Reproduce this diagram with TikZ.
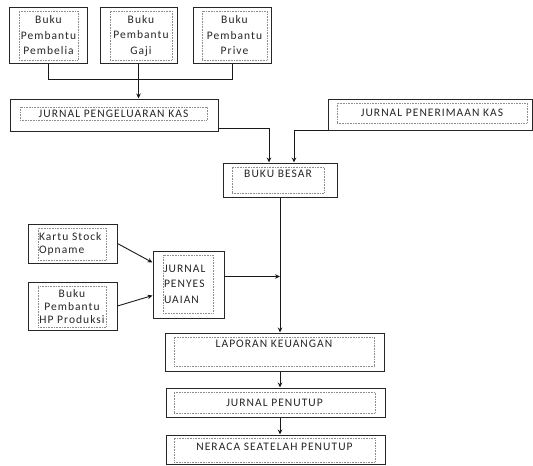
\documentclass[tikz,border=0pt]{standalone}
\usepackage{fontspec}
\setmainfont{Carlito}[LetterSpace=9]
\usetikzlibrary{arrows.meta}

\tikzset{
    outerbox/.style={draw=black!85, line width=1pt, inner sep=0pt},
    innerbox/.style={draw=black!45, densely dotted, line width=0.6pt, inner sep=1pt,
        align=center, text=black!85, font=\fontsize{11.5}{15.5}\selectfont},
    smalltext/.style={font=\fontsize{11.5}{13}\selectfont},
    link/.style={draw=black!90, line width=0.9pt},
    arr/.style={link, -{Stealth[length=5pt,width=4.5pt]}}
}

\begin{document}
\begin{tikzpicture}[x=1pt,y=-1pt]
    \useasboundingbox (0,0) rectangle (533,466);

    \node[outerbox, minimum width=78pt, minimum height=56pt] (pembelia) at (48,35) {};
    \node[innerbox, minimum width=59pt, minimum height=49pt, inner sep=0pt] (pembelia-t) at (48.5,35.5) {Buku\\Pembantu\\Pembelia};
    \node[outerbox, minimum width=77pt, minimum height=56pt] (gaji) at (138.5,35) {};
    \node[innerbox, minimum width=62pt, minimum height=49pt] (gaji-t) at (141,35.5) {Buku\\Pembantu\\Gaji};
    \node[outerbox, minimum width=78pt, minimum height=56pt] (prive) at (232,35) {};
    \node[innerbox, minimum width=65pt, minimum height=49pt] (prive-t) at (234.5,35.5) {Buku\\Pembantu\\Prive};

    \node[outerbox, minimum width=208pt, minimum height=32pt] (jpk) at (114,115) {};
    \node[innerbox, minimum width=187pt, minimum height=13pt, inner sep=0pt] (jpk-t) at (113.5,113.5) {JURNAL PENGELUARAN KAS};
    \node[outerbox, minimum width=204pt, minimum height=31pt] (jpm) at (430,114.5) {};
    \node[innerbox, minimum width=190pt, minimum height=20pt] (jpm-t) at (432,113) {JURNAL PENERIMAAN KAS};

    \node[outerbox, minimum width=114pt, minimum height=34pt] (bb) at (280,180) {};
    \node[innerbox, minimum width=92pt, text height=10pt, text depth=16pt, inner sep=0pt] (bb-t) at (278,180) {BUKU BESAR};

    \node[outerbox, minimum width=89pt, minimum height=39pt] (kartu) at (72.5,243.5) {};
    \node[innerbox, smalltext, text width=66pt, minimum height=32pt, align=left] (kartu-t) at (72,244) {Kartu Stock\\Opname};
    \node[outerbox, minimum width=89pt, minimum height=48pt] (hp) at (72.5,306) {};
    \node[innerbox, smalltext, minimum width=68pt, minimum height=41pt, inner sep=0pt] (hp-t) at (72,306.5) {Buku\\Pembantu\\HP Produksi};

    \node[outerbox, minimum width=71pt, minimum height=67pt] (jp) at (188.5,284.5) {};
    \node[innerbox, text width=48pt, minimum height=58pt, align=left] (jp-t) at (188,284) {JURNAL\\PENYES\\UAIAN};

    \node[outerbox, minimum width=219pt, minimum height=38pt] (lk) at (274.5,352) {};
    \node[innerbox, minimum width=200pt, text height=10pt, text depth=19pt, inner sep=0pt] (lk-t) at (274,351.5) {LAPORAN KEUANGAN};
    \node[outerbox, minimum width=219pt, minimum height=29pt] (jpt) at (275.5,402.5) {};
    \node[innerbox, minimum width=201pt, minimum height=21pt, inner sep=0pt] (jpt-t) at (274.5,402.5) {JURNAL PENUTUP};
    \node[outerbox, minimum width=219pt, minimum height=29pt] (neraca) at (275.5,449.5) {};
    \node[innerbox, minimum width=201pt, text height=12pt, text depth=12pt, inner sep=0pt] (neraca-t) at (274.5,450) {NERACA SEATELAH PENUTUP};

    \draw[link] (pembelia.south) -- ++(0,16) -| (prive.south);
    \draw[arr] (gaji.south) -- (gaji.south |- jpk.north);
    \draw[arr] ([yshift=3pt]jpk.south east) -| ([xshift=-11pt]bb.north);
    \draw[arr] (jpm.south west) -| ([xshift=14pt]bb.north);
    \draw[arr] (bb.south) -- (bb.south |- lk.north);
    \draw[arr] (kartu.east) -- ([yshift=22pt]jp.west);
    \draw[arr] (hp.east) -- ([yshift=-11pt]jp.west);
    \coordinate (jpout) at ([yshift=8pt]jp.east);
    \draw[arr] (jpout) -- (jpout -| bb.south);
    \draw[arr] (lk.south -| bb.south) -- (jpt.north -| bb.south);
    \draw[arr] (jpt.south -| bb.south) -- (neraca.north -| bb.south);
\end{tikzpicture}
\end{document}
